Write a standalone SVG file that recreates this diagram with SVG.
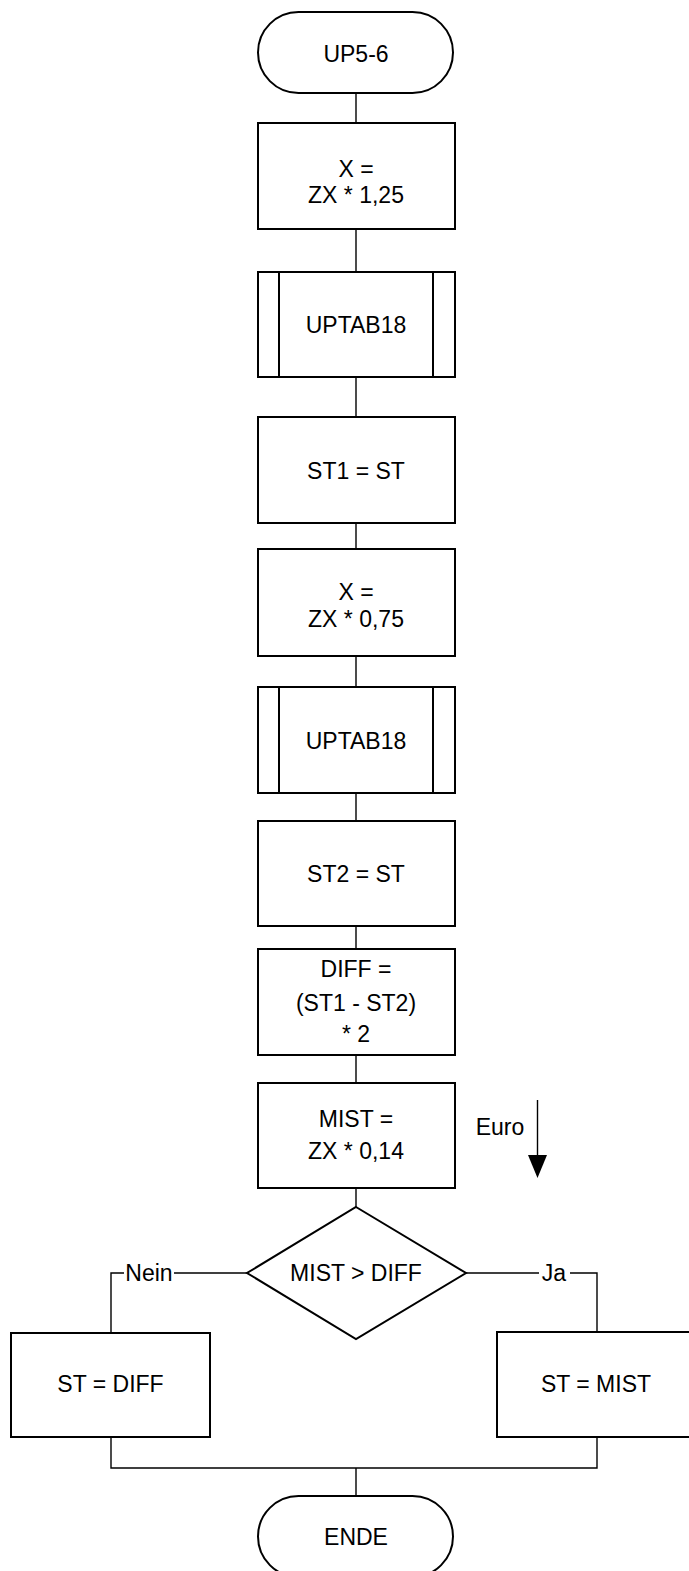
<svg xmlns="http://www.w3.org/2000/svg" width="689" height="1571" viewBox="0 0 689 1571">
<style>
.s{fill:#fff;stroke:#000;stroke-width:2}
.c{fill:none;stroke:#000;stroke-width:1.4}
text{font-family:"Liberation Sans",Arial,sans-serif;font-size:23px;fill:#000;text-anchor:middle}
</style>
<rect width="689" height="1571" fill="#fff"/>
<g id="connectors">
<path class="c" d="M356 93V123M356 229V272M356 377V417M356 523V549M356 656V687M356 793V821M356 926V949M356 1055V1083M356 1188V1207"/>
<path class="c" d="M247 1273H111V1333M466 1273H597V1332"/>
<path class="c" d="M111 1437V1468H597V1437M356 1468V1496"/>
<rect x="124" y="1261" width="50" height="25" fill="#fff"/>
<text x="149" y="1281">Nein</text>
<rect x="539" y="1261" width="31" height="25" fill="#fff"/>
<text x="554" y="1281">Ja</text>
</g>
<g id="start"><rect class="s" x="258" y="12" width="195" height="81" rx="40.5"/><text x="356" y="62">UP5-6</text></g>
<g id="x1"><rect class="s" x="258" y="123" width="197" height="106"/><text x="356" y="177">X =</text><text x="356" y="203">ZX * 1,25</text></g>
<g id="sub1"><rect class="s" x="258" y="272" width="197" height="105"/><path class="s" d="M279 272V377M433 272V377"/><text x="356" y="333">UPTAB18</text></g>
<g id="st1"><rect class="s" x="258" y="417" width="197" height="106"/><text x="356" y="479">ST1 = ST</text></g>
<g id="x2"><rect class="s" x="258" y="549" width="197" height="107"/><text x="356" y="600">X =</text><text x="356" y="627">ZX * 0,75</text></g>
<g id="sub2"><rect class="s" x="258" y="687" width="197" height="106"/><path class="s" d="M279 687V793M433 687V793"/><text x="356" y="749">UPTAB18</text></g>
<g id="st2"><rect class="s" x="258" y="821" width="197" height="105"/><text x="356" y="882">ST2 = ST</text></g>
<g id="diff"><rect class="s" x="258" y="949" width="197" height="106"/><text x="356" y="977">DIFF =</text><text x="356" y="1011">(ST1 - ST2)</text><text x="356" y="1042">* 2</text></g>
<g id="mist"><rect class="s" x="258" y="1083" width="197" height="105"/><text x="356" y="1127">MIST =</text><text x="356" y="1159">ZX * 0,14</text></g>
<g id="euro"><text x="500" y="1135">Euro</text><path class="c" d="M537.5 1100V1158"/><polygon points="528,1155 547,1155 537.5,1178" fill="#000"/></g>
<g id="decision"><polygon class="s" points="356,1207 466,1273 356,1339 247,1273"/><text x="356" y="1281">MIST &gt; DIFF</text></g>
<g id="stdiff"><rect class="s" x="11" y="1333" width="199" height="104"/><text x="110.5" y="1392">ST = DIFF</text></g>
<g id="stmist"><rect class="s" x="497" y="1332" width="199" height="105"/><text x="596" y="1392">ST = MIST</text></g>
<g id="ende"><rect class="s" x="258" y="1496" width="195" height="81" rx="40.5"/><text x="356" y="1545">ENDE</text></g>
</svg>
